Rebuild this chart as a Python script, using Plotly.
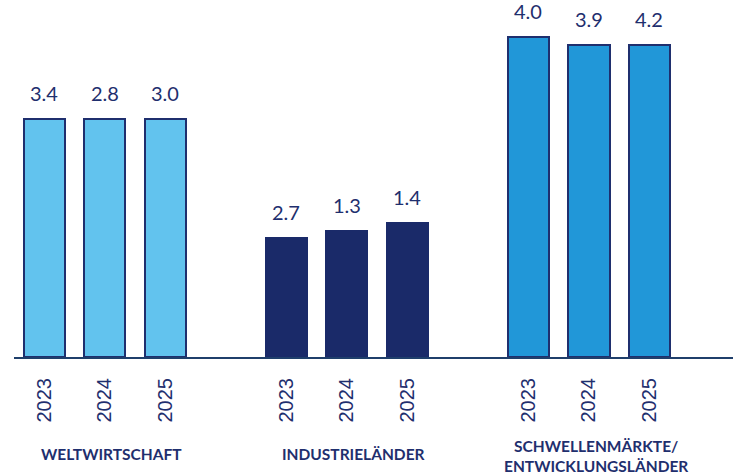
import plotly.graph_objects as go

groups = ["WELTWIRTSCHAFT", "INDUSTRIELÄNDER", "SCHWELLENMÄRKTE/<br>ENTWICKLUNGSLÄNDER"]
years = ["2023", "2024", "2025"]
# bar heights as drawn in the picture (not proportional to the printed labels)
heights_welt = [2.98, 2.98, 2.98]
heights_ind = [1.49, 1.58, 1.67]
heights_sch = [4.00, 3.90, 3.90]
labels_welt = ["3.4", "2.8", "3.0"]
labels_ind = ["2.7", "1.3", "1.4"]
labels_sch = ["4.0", "3.9", "4.2"]

colors = ["#62C3EE", "#1A2A69", "#2197D8"]
outline = ["#1F2F6E", "#1A2A69", "#1F2F6E"]
navy = "#1F2F6E"

heights = [heights_welt, heights_ind, heights_sch]
labels = [labels_welt, labels_ind, labels_sch]

fig = go.Figure()
tickvals, ticktext = [], []
for gi in range(3):
    xs = [gi * 4 + k for k in range(3)]
    tickvals += xs
    ticktext += years
    fig.add_trace(go.Bar(
        x=xs, y=heights[gi], width=0.68,
        marker=dict(color=colors[gi], line=dict(color=outline[gi], width=2)),
        showlegend=False, hoverinfo="skip"))
    for x, h, t in zip(xs, heights[gi], labels[gi]):
        fig.add_annotation(x=x, y=h, text=t, showarrow=False, yanchor="bottom",
                           yshift=12, font=dict(family="Lato", size=20, color=navy))
    fig.add_annotation(x=gi * 4 + 1, y=0, yref="y", text="<b>" + groups[gi] + "</b>",
                       showarrow=False, yanchor="top", xshift=7,
                       yshift=-(86 if gi < 2 else 78),
                       font=dict(family="Lato", size=15.5, color=navy))

fig.update_layout(
    width=733, height=476,
    margin=dict(l=14, r=0, t=0, b=119),
    plot_bgcolor="white", paper_bgcolor="white",
    bargap=0,
    xaxis=dict(range=[-0.5, 11.38], tickvals=tickvals, ticktext=ticktext,
               tickangle=-90, showline=True, linecolor="#1F3F6B", linewidth=2,
               showgrid=False, zeroline=False, ticks="", ticklabelstandoff=11,
               tickfont=dict(family="Liberation Sans", size=20, color=navy)),
    yaxis=dict(range=[0, 4.4625], visible=False, showgrid=False, zeroline=False),
)
fig.write_html("out.html", config={"displayModeBar": False},
               post_script="document.body.style.margin='0px';")
